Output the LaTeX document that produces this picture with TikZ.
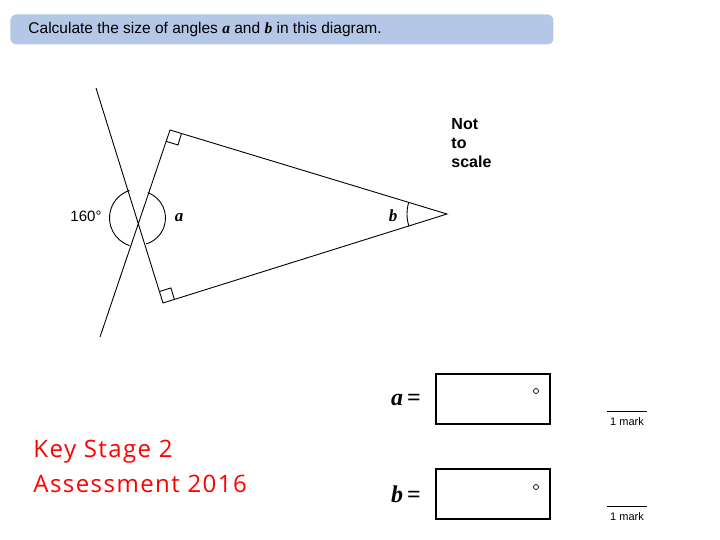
\documentclass[tikz,border=0pt]{standalone}
\usepackage{fontspec}
\setmainfont{Liberation Sans}
\newfontfamily\serifb{Liberation Serif}
\newfontfamily\redf[LetterSpace=6]{Open Sans}
\usetikzlibrary{calc}
\begin{document}
\begin{tikzpicture}[x=1pt,y=-1pt,line width=0.9pt,
  lab/.style={font=\fontsize{15}{18}\selectfont,inner sep=0pt},
  ansbox/.style={draw,line width=1.6pt,minimum width=114pt,minimum height=50pt},
  red/.style={text=red,font=\fontsize{24}{28}\selectfont\redf,anchor=west,inner sep=0pt}]
\useasboundingbox (0,0) rectangle (720,540);
\node[fill={rgb,255:red,180;green,199;blue,231},rounded corners=6pt,minimum width=543pt,minimum height=30pt,anchor=north west] (hdr) at (10,14) {};
\node[lab,font=\fontsize{15.5}{18}\selectfont,anchor=west] (q) at (28,29) {Calculate the size of angles {\serifb\bfseries\itshape a} and {\serifb\bfseries\itshape b} in this diagram.};
\coordinate (T) at (170,130);
\coordinate (A) at (447,214);
\coordinate (B) at (163,303);
\coordinate (L1) at (96,88);
\coordinate (L2) at (100,337);
\coordinate (X) at (138.5,218);
\draw (L1) -- (B) -- (A) -- (T) -- (L2);
\draw ($(T)!12pt!(A)$) -- ($($(T)!12pt!(A)$)!12pt!-90:(A)$) -- ($(T)!12pt!(X)$);
\draw ($(B)!12pt!(A)$) -- ($($(B)!12pt!(A)$)!12pt!90:(A)$) -- ($(B)!12pt!(X)$);
\draw ([shift={(108:29)}]X) arc[start angle=108,end angle=252,radius=29];
\draw ([shift={(-70:27)}]X) arc[start angle=-70,end angle=74,radius=27];
\draw ([shift={(162:40)}]A) arc[start angle=162,end angle=197,radius=40];
\node[lab] (d160) at (86,216) {160\textdegree};
\node[font=\fontsize{17}{20}\selectfont\serifb\bfseries\itshape] (la) at (179,218) {a};
\node[font=\fontsize{17}{20}\selectfont\serifb\bfseries\itshape] (lb) at (393,216) {b};
\node[lab,font=\fontsize{16}{20}\selectfont\bfseries,align=left,anchor=north west] (nts) at (451,118) {Not\\[-1pt]to\\[-1pt]scale};
\node[font=\fontsize{24}{28}\selectfont\serifb\bfseries] (aeq) at (406,400) {\itshape a\upshape\,=};
\node[ansbox] (boxa) at (493,399) {};
\node[draw,circle,inner sep=0pt,minimum size=5pt,line width=0.7pt] (dega) at (536,391) {};
\node[font=\fontsize{24}{28}\selectfont\serifb\bfseries] (beq) at (406,494) {\itshape b\upshape\,=};
\node[ansbox] (boxb) at (493,494) {};
\node[draw,circle,inner sep=0pt,minimum size=5pt,line width=0.7pt] (degb) at (536,487) {};
\node[font=\fontsize{11}{13}\selectfont,inner sep=0pt] (m1) at (627,422) {1 mark};
\draw[line width=0.6pt] (607,411) -- (647,411);
\node[font=\fontsize{11}{13}\selectfont,inner sep=0pt] (m2) at (627,517) {1 mark};
\draw[line width=0.6pt] (607,506) -- (647,506);
\node[red] (k1) at (33,452) {Key Stage 2};
\node[red] (k2) at (33,484) {Assessment 2016};
\end{tikzpicture}
\end{document}
